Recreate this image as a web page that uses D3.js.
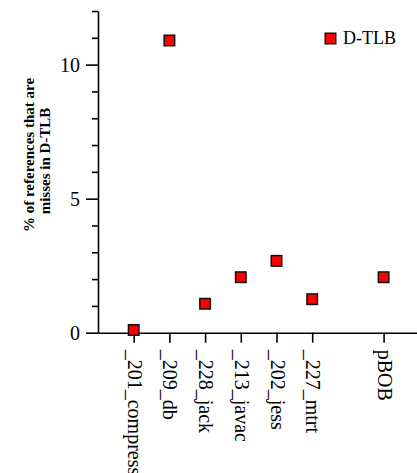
<!DOCTYPE html>
<html>
<head>
<meta charset="utf-8">
<script src="https://cdn.jsdelivr.net/npm/d3@7"></script>
<style>
  html, body { margin: 0; padding: 0; background: #fff; }
  svg { display: block; }
  text { font-family: "Liberation Serif", "Times New Roman", serif; fill: #000; }
</style>
</head>
<body>
<svg id="chart" width="417" height="473"></svg>
<script>
// Benchmarks and their slot along the x axis (slot 7 left empty before pBOB)
const benchmarks = ["_201_compress", "_209_db", "_228_jack", "_213_javac", "_202_jess", "_227_mtrt", "pBOB"];
const slots = [1, 2, 3, 4, 5, 6, 8];
// % of references that miss in the D-TLB
const dtlbMissPct = [0.1, 10.9, 1.08, 2.07, 2.68, 1.25, 2.07];
const seriesName = "D-TLB";
const yMajorTicks = [0, 5, 10];
const yMinorTicks = [1, 2, 3, 4, 6, 7, 8, 9, 11, 12];

const svg = d3.select("#chart");

const x = d3.scaleLinear().domain([0, 9]).range([98, 419.3]);
const y = d3.scaleLinear().domain([0, 12]).range([332.7, 11]);

const axisStroke = 1.6;

// y axis: minor ticks
svg.append("g")
  .attr("transform", `translate(${x(0)},0)`)
  .call(d3.axisLeft(y).tickValues(yMinorTicks).tickSize(6).tickSizeOuter(0).tickFormat(""))
  .call(g => g.select(".domain").remove())
  .call(g => g.selectAll("line").attr("stroke", "#000").attr("stroke-width", axisStroke));

// y axis: major ticks and labels
svg.append("g")
  .attr("transform", `translate(${x(0)},0)`)
  .call(d3.axisLeft(y).tickValues(yMajorTicks).tickSize(12).tickSizeOuter(0).tickPadding(6))
  .call(g => g.select(".domain").attr("stroke", "#000").attr("stroke-width", axisStroke))
  .call(g => g.selectAll("line").attr("stroke", "#000").attr("stroke-width", axisStroke))
  .call(g => g.selectAll("text")
    .style("font-family", "'Liberation Serif', 'Times New Roman', serif")
    .style("font-size", "20px").attr("fill", "#000"));

// x axis with rotated benchmark names
const nameOf = new Map(slots.map((s, i) => [s, benchmarks[i]]));
svg.append("g")
  .attr("transform", `translate(0,${y(0)})`)
  .call(d3.axisBottom(x).tickValues(slots).tickSize(10).tickSizeOuter(0).tickFormat(d => nameOf.get(d)))
  .call(g => g.select(".domain").attr("stroke", "#000").attr("stroke-width", axisStroke))
  .call(g => g.selectAll("line").attr("stroke", "#000").attr("stroke-width", axisStroke))
  .call(g => g.selectAll("text")
    .attr("transform", "rotate(90)")
    .attr("text-anchor", "start")
    .attr("x", 17)
    .attr("y", 0)
    .attr("dy", "0.32em")
    .style("font-family", "'Liberation Serif', 'Times New Roman', serif")
    .style("font-size", "20px").attr("fill", "#000"));

// y axis title (two lines, bold)
const title = svg.append("g").attr("font-weight", "bold").style("font-size", "15px");
title.append("text")
  .attr("transform", "translate(34,155) rotate(-90)")
  .attr("text-anchor", "middle")
  .text("% of references that are");
title.append("text")
  .attr("transform", "translate(50,161) rotate(-90)")
  .attr("text-anchor", "middle")
  .text("misses in D-TLB");

// data markers
const m = 10.5;
svg.append("g")
  .selectAll("rect")
  .data(dtlbMissPct)
  .join("rect")
  .attr("x", (d, i) => x(slots[i]) - m / 2)
  .attr("y", d => y(d) - m / 2)
  .attr("width", m)
  .attr("height", m)
  .attr("fill", "#ff0000")
  .attr("stroke", "#111")
  .attr("stroke-width", 1.5);

// legend
const legend = svg.append("g").attr("transform", "translate(330.5,38.5)");
legend.append("rect")
  .attr("x", -m / 2).attr("y", -m / 2).attr("width", m).attr("height", m)
  .attr("fill", "#ff0000").attr("stroke", "#111").attr("stroke-width", 1.5);
legend.append("text")
  .attr("x", 12.5).attr("y", 5.5)
  .style("font-size", "18px")
  .text(seriesName);
</script>
</body>
</html>
